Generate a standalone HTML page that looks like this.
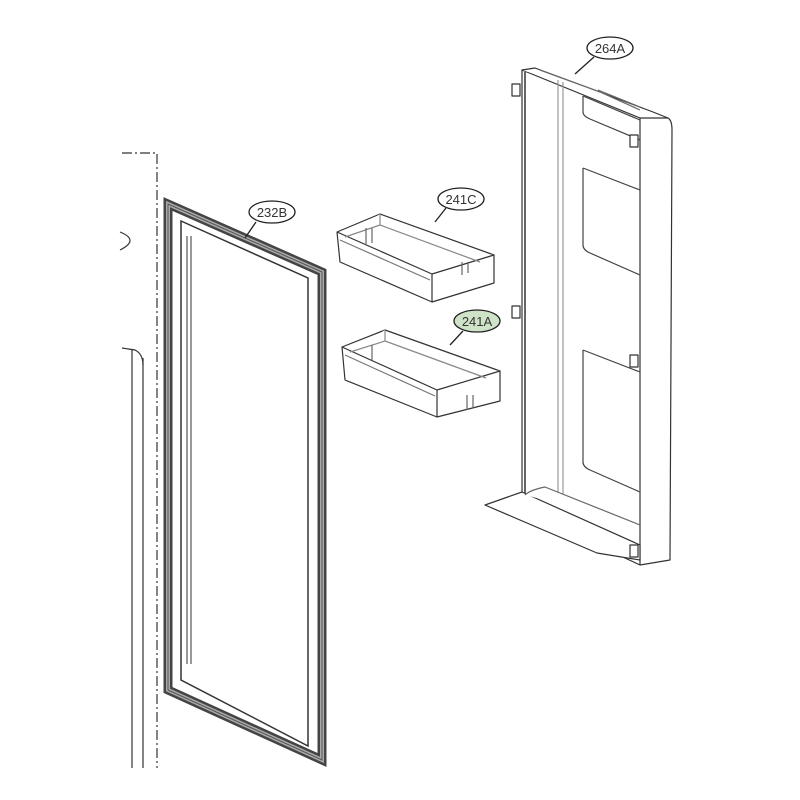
<!DOCTYPE html>
<html><head><meta charset="utf-8"><style>html,body{margin:0;background:#fff}svg{display:block}</style></head><body>
<svg width="800" height="800" viewBox="0 0 800 800" xmlns="http://www.w3.org/2000/svg" font-family="Liberation Sans, sans-serif">
<rect width="800" height="800" fill="#fff"/>
<g stroke="#333" fill="none" stroke-width="1.2">
<path d="M122 153 H157 V768" stroke-dasharray="10,3,2,3"/>
<path d="M132 350 V768 M143 358 V768"/>
<path d="M122 348 L135 350 Q143 354 143 365"/>
<path d="M120 232 Q140 240 120 250"/>
</g>
<g fill="none" stroke-linejoin="miter">
<path d="M168 204 L322 272 L322 760 L168 690 Z" stroke="#444" stroke-width="9"/>
<path d="M168 204 L322 272 L322 760 L168 690 Z" stroke="#aaa" stroke-width="4"/>
<path d="M168 204 L322 272 L322 760 L168 690 Z" stroke="#555" stroke-width="1"/>
<path d="M181 221 L308 278 L308 746 L181 680 Z" stroke="#333" stroke-width="1.5"/>
<path d="M187 236 V664 M191 236 V664" stroke="#555" stroke-width="1.2"/>
</g>
<g fill="#fff" stroke="#333" stroke-width="1.2" stroke-linejoin="round">
<path d="M337 232 L380 214 L494 255 L494 283 L432 302 L340 262 Z"/>
<path d="M337 232 L432 274 L494 255 M432 274 L432 302"/>
<path d="M340 240 L430 280" stroke="#777"/>
<path d="M380 214 L380 225 L345 237 M380 225 L480 262" stroke="#888"/>
<path d="M366 228 V245 M372 228 V243 M462 262 V275 M468 262 V273" stroke="#666"/>
</g>
<g fill="#fff" stroke="#333" stroke-width="1.2" stroke-linejoin="round">
<path d="M342 347 L385 330 L500 371 L500 401 L437 417 L345 380 Z"/>
<path d="M342 347 L437 390 L500 371 M437 390 L437 417"/>
<path d="M345 355 L435 396" stroke="#777"/>
<path d="M385 330 L385 341 L350 352 M385 341 L486 378" stroke="#888"/>
<path d="M372 345 V360 M467 395 V410 M473 395 V408" stroke="#666"/>
</g>
<g fill="#fff" stroke="#333" stroke-width="1.2" stroke-linejoin="round">
<path d="M522 70 L640 118 L668 118 Q672 120 672 130 L670 560 L640 565 L522 510 Z"/>
<path d="M522 70 L535 68 L653 112 L668 118 M640 118 L640 565"/>
<path d="M525 72 V505" stroke-width="1.5"/>
<path d="M558 80 V500 M563 82 V502" stroke="#999"/>
<path d="M583 96 L640 120 M583 96 V112 Q583 116 590 119 L640 140" stroke="#444"/>
<path d="M583 168 L640 190 M583 168 V245 Q583 250 590 253 L640 275" stroke="#444"/>
<path d="M583 350 L640 372 M583 350 V462 Q583 467 590 470 L640 492" stroke="#444"/>
<path d="M485 505 L522 492 L640 545 L640 560 L597 553 Z"/>
<path d="M525 495 Q530 490 545 487 L640 525" stroke="#666"/>
<path d="M512 84 h8 v12 h-8 z M512 306 h8 v12 h-8 z M630 135 h8 v12 h-8 z M630 355 h8 v12 h-8 z M630 545 h8 v12 h-8 z"/>
<path d="M540 70 L600 92 L640 110 M598 90 L640 107" stroke="#666"/>
</g>
<g stroke="#222" stroke-width="1.3" fill="#fff">
<line x1="594" y1="57" x2="575" y2="74"/>
<line x1="446" y1="208" x2="435" y2="222"/>
<line x1="256" y1="222" x2="245" y2="238"/>
<line x1="463" y1="331" x2="450" y2="345"/>
<ellipse cx="610" cy="48" rx="23" ry="11"/>
<ellipse cx="461" cy="199" rx="23" ry="11"/>
<ellipse cx="272" cy="212" rx="23" ry="11"/>
<ellipse cx="477" cy="321" rx="23" ry="11" fill="#cfe3c8"/>
</g>
<g font-size="13" fill="#333" text-anchor="middle">
<text x="610" y="53">264A</text>
<text x="461" y="204">241C</text>
<text x="272" y="217">232B</text>
<text x="477" y="326">241A</text>
</g>
</svg>
</body></html>
